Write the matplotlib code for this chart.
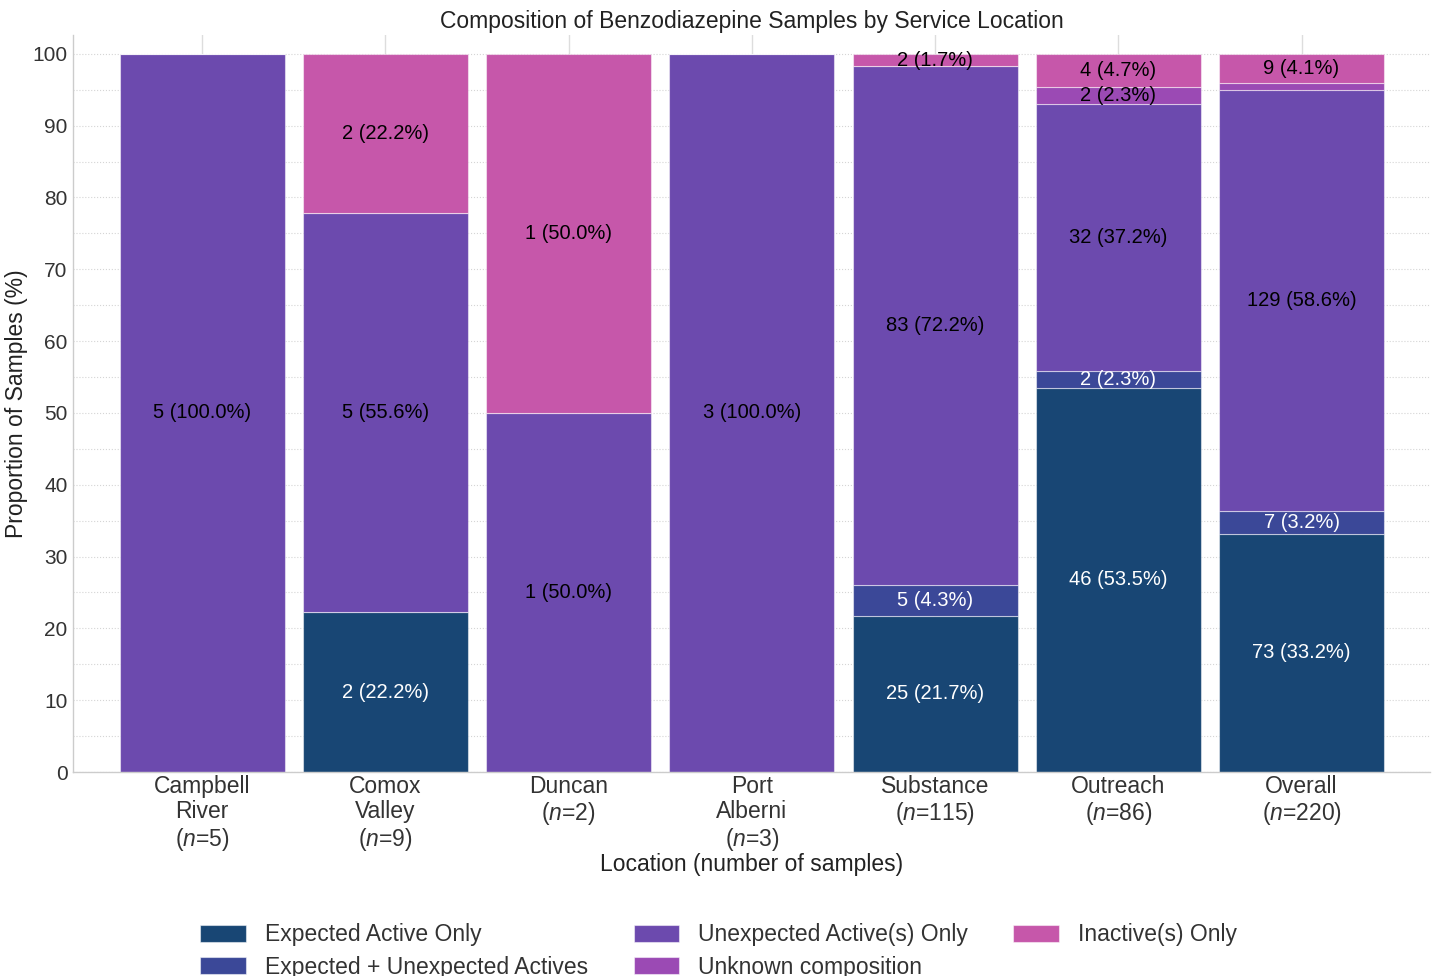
import matplotlib
matplotlib.use("Agg")
import matplotlib.pyplot as plt
import numpy as np
from matplotlib.ticker import MultipleLocator

plt.rcParams['font.family'] = ['Liberation Sans', 'DejaVu Sans']
plt.rcParams['mathtext.fontset'] = 'custom'
plt.rcParams['mathtext.rm'] = 'Liberation Sans'
plt.rcParams['mathtext.it'] = 'Liberation Sans:italic'

locations = ["Campbell\nRiver", "Comox\nValley", "Duncan", "Port\nAlberni", "Substance", "Outreach", "Overall"]
totals = [5, 9, 2, 3, 115, 86, 220]
categories = ["Expected Active Only", "Expected + Unexpected Actives", "Unexpected Active(s) Only",
              "Unknown composition", "Inactive(s) Only"]
expected_only = [0, 2, 0, 0, 25, 46, 73]
expected_plus = [0, 0, 0, 0, 5, 2, 7]
unexpected_only = [5, 5, 1, 3, 83, 32, 129]
unknown_comp = [0, 0, 0, 0, 0, 2, 2]
inactive_only = [0, 2, 1, 0, 2, 4, 9]
colors = ["#184674", "#3b4898", "#6c4aae", "#9b4ab4", "#c657aa"]
text_colors = ["white", "white", "black", "black", "black"]

series = [expected_only, expected_plus, unexpected_only, unknown_comp, inactive_only]

fig = plt.figure(figsize=(14.37, 9.76), dpi=100)
ax = fig.add_axes([0.0508, 0.209, 0.9442, 0.755])

x = np.arange(len(locations))
tot = np.array(totals, dtype=float)
bottom = np.zeros(len(locations))
for name, vals, col, tcol in zip(categories, series, colors, text_colors):
    vals = np.array(vals, dtype=float)
    pct = vals / tot * 100
    ax.bar(x, pct, bottom=bottom, width=0.9, color=col, label=name,
           edgecolor=(1, 1, 1, 0.5), linewidth=0.8, zorder=2)
    for i in range(len(x)):
        if pct[i] > 1.0:
            ax.text(x[i], bottom[i] + pct[i] / 2, f"{int(vals[i])} ({pct[i]:.1f}%)",
                    ha='center', va='center', color=tcol, fontsize=14.5, zorder=3)
    bottom += pct

ticklabels = [f"{loc}\n($\\it{{n}}$={n})" for loc, n in zip(locations, totals)]
ax.set_xticks(x)
ax.set_xticklabels(ticklabels, fontsize=16.5, color='#333333', linespacing=1.13)
ax.set_xlim(-0.705, 6.7)
ax.set_ylim(0, 102.6)
ax.yaxis.set_major_locator(MultipleLocator(10))
ax.yaxis.set_minor_locator(MultipleLocator(5))
ax.tick_params(axis='both', length=0, which='both', labelsize=15, colors='#333333', pad=4)
ax.tick_params(axis='x', labelsize=16.5, pad=2)
ax.grid(axis='y', which='both', linestyle=':', color='#d5d5d5', linewidth=0.8, zorder=0)
ax.grid(axis='x', which='major', linestyle='-', color='#dddddd', linewidth=1.0, zorder=0)
ax.set_axisbelow(True)
for s in ['top', 'right']:
    ax.spines[s].set_visible(False)
for s in ['left', 'bottom']:
    ax.spines[s].set_color('#cccccc')
    ax.spines[s].set_linewidth(1.0)

ax.set_title("Composition of Benzodiazepine Samples by Service Location", fontsize=16.5,
             color='#222222', pad=5)
ax.set_ylabel("Proportion of Samples (%)", fontsize=16.5, color='#222222', labelpad=3)
ax.set_xlabel("Location (number of samples)", fontsize=16.5, color='#222222', labelpad=0)

fig.legend(loc='upper center', bbox_to_anchor=(0.5, 0.075), ncol=3, frameon=False,
           fontsize=16.5, handlelength=2.0, handleheight=0.75, columnspacing=2.0,
           labelspacing=0.4, handletextpad=0.8, labelcolor='#333333')

fig.savefig("out.png", dpi=100)
